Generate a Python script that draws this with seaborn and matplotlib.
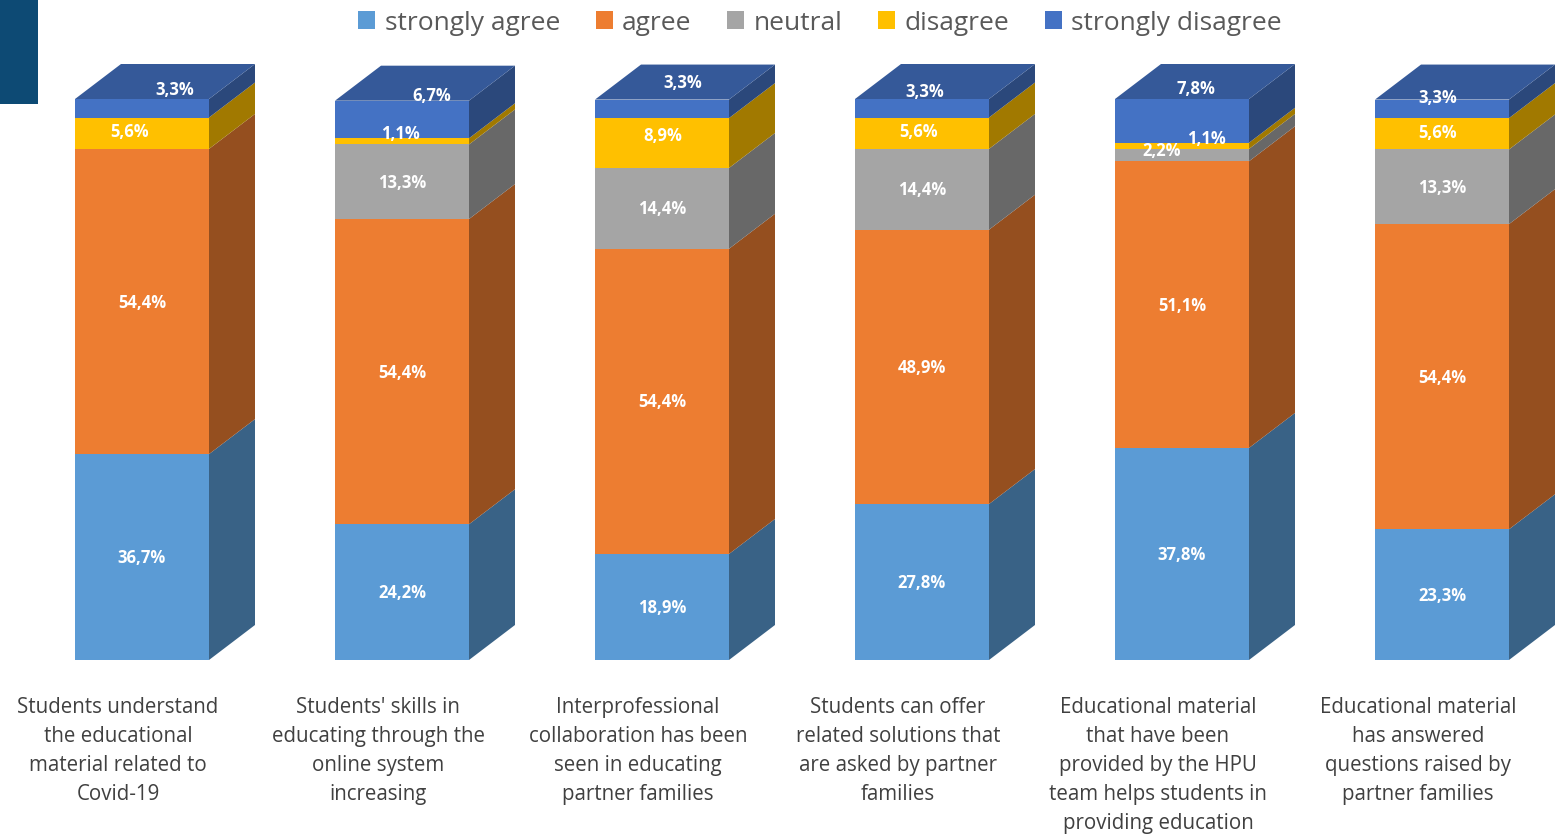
import numpy as np
import pandas as pd
import seaborn as sns
import matplotlib.pyplot as plt
from matplotlib.patches import Polygon, Patch, Rectangle
from matplotlib.colors import to_rgb

# data (percent)
questions = [
    "Students understand\nthe educational\nmaterial related to\nCovid-19",
    "Students' skills in\neducating through the\nonline system\nincreasing",
    "Interprofessional\ncollaboration has been\nseen in educating\npartner families",
    "Students can offer\nrelated solutions that\nare asked by partner\nfamilies",
    "Educational material\nthat have been\nprovided by the HPU\nteam helps students in\nproviding education",
    "Educational material\nhas answered\nquestions raised by\npartner families",
]
series = ["strongly agree", "agree", "neutral", "disagree", "strongly disagree"]
strongly_agree = [36.7, 24.2, 18.9, 27.8, 37.8, 23.3]
agree = [54.4, 54.4, 54.4, 48.9, 51.1, 54.4]
neutral = [0.0, 13.3, 14.4, 14.4, 2.2, 13.3]
disagree = [5.6, 1.1, 8.9, 5.6, 1.1, 5.6]
strongly_disagree = [3.3, 6.7, 3.3, 3.3, 7.8, 3.3]

colors = ["#5b9bd5", "#ed7d31", "#a5a5a5", "#ffc000", "#4472c4"]

# label nudges in pixels (bar index, series index) -> (dx, dy)
nudges = {
    (0, 3): (-12, 2), (0, 4): (33, 19),
    (1, 3): (-2, 8), (1, 4): (30, 24),
    (2, 3): (1, 8), (2, 4): (21, 27),
    (3, 3): (-3, 2), (3, 4): (3, 17),
    (4, 2): (-20, 5), (4, 3): (24, 8), (4, 4): (14, 33),
    (5, 3): (-4, 2), (5, 4): (-4, 12),
}


def shade(c, f):
    r, g, b = to_rgb(c)
    return (r * f, g * f, b * f)


df = pd.DataFrame({"q": questions, "strongly agree": strongly_agree, "agree": agree,
                   "neutral": neutral, "disagree": disagree,
                   "strongly disagree": strongly_disagree})
cum = df[series].cumsum(axis=1)

W, H = 1560, 837
fig = plt.figure(figsize=(W / 100, H / 100), dpi=100)
ax = fig.add_axes([0, 176 / H, 1, 561 / H])

bar_w = 134 / 260
dx = 46 / 260
dy = 35 / 5.61

# front faces: stacked by drawing cumulative totals from the top down
for k in range(len(series) - 1, -1, -1):
    sns.barplot(x=df["q"], y=cum[series[k]], color=colors[k], saturation=1,
                width=bar_w, ax=ax, linewidth=0)

# side and top faces
for i in range(len(questions)):
    right = i + bar_w / 2
    bottoms = [0] + list(cum.iloc[i, :-1])
    for k, s in enumerate(series):
        b0, b1 = bottoms[k], cum.iloc[i, k]
        if b1 - b0 <= 0:
            continue
        ax.add_patch(Polygon([(right, b0), (right + dx, b0 + dy), (right + dx, b1 + dy), (right, b1)],
                             closed=True, facecolor=shade(colors[k], 0.63), edgecolor="none",
                             clip_on=False))
    top = cum.iloc[i, -1]
    ax.add_patch(Polygon([(i - bar_w / 2, top), (right, top), (right + dx, top + dy),
                          (i - bar_w / 2 + dx, top + dy)],
                         closed=True, facecolor=shade(colors[-1], 0.78), edgecolor="none",
                         clip_on=False))

    # data labels
    for k, s in enumerate(series):
        b0, b1 = bottoms[k], cum.iloc[i, k]
        v = df[s].iloc[i]
        if v <= 0:
            continue
        off = nudges.get((i, k), (0, 0))
        ax.annotate(f"{v:.1f}%".replace(".", ","), xy=(i, (b0 + b1) / 2), xytext=off,
                    textcoords="offset pixels", ha="center", va="center", annotation_clip=False,
                    color="white", fontsize=12, fontweight="bold", family="Open Sans",
                    zorder=5)

    ax.text(i - 24 / 260, -6.5, questions[i], ha="center", va="top", fontsize=14.8,
            color="#404040", family="Open Sans", linespacing=1.5)

ax.set_xlim(-142 / 260, (W - 142) / 260)
ax.set_ylim(0, 100)
ax.axis("off")

handles = [Patch(facecolor=c, edgecolor="none") for c in colors]
leg = fig.legend(handles, series, loc="center", bbox_to_anchor=(820 / W, 1 - 24 / H), ncol=5,
                 frameon=False, handlelength=0.65, handleheight=0.65, handletextpad=0.35,
                 columnspacing=1.35, prop={"family": "Open Sans", "size": 19})
for t in leg.get_texts():
    t.set_color("#595959")

fig.patches.append(Rectangle((0, 1 - 105 / H), 38 / W, 105 / H, transform=fig.transFigure,
                             facecolor="#0d4a74", edgecolor="none", zorder=0))

fig.savefig("out.png", dpi=100)
